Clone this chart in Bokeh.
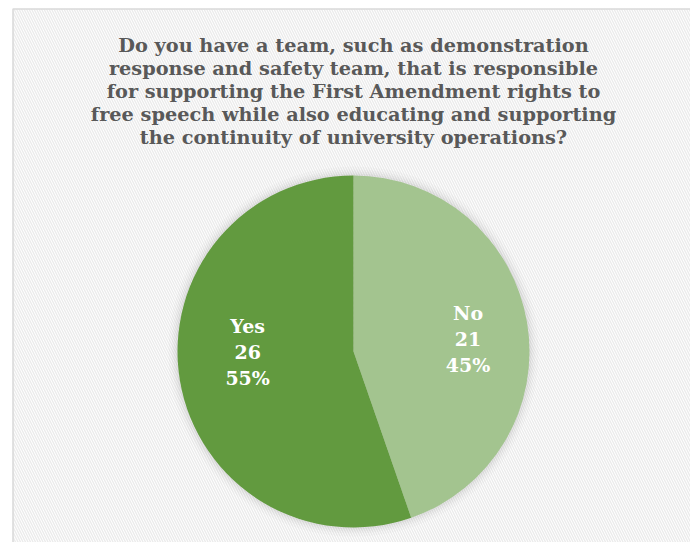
import numpy as np
from bokeh.plotting import figure
from bokeh.models import ColumnDataSource, Range1d
from bokeh.core.properties import value
from bokeh.embed import file_html
from bokeh.resources import INLINE

# ---- data ----
categories = ["No", "Yes"]
counts = [21, 26]
colors = ["#a3c48f", "#629a3f"]
title_lines = [
    "Do you have a team, such as demonstration",
    "response and safety team, that is responsible",
    "for supporting the First Amendment rights to",
    "free speech while also educating and supporting",
    "the continuity of university operations?",
]

W, H = 690, 542
p = figure(width=W, height=H, output_backend="svg", toolbar_location=None,
           x_range=Range1d(0, W), y_range=Range1d(0, H), min_border=0)
p.axis.visible = False
p.grid.visible = False
p.outline_line_color = None
p.background_fill_color = "white"
p.border_fill_color = "white"

# chart area with hatched background and border
p.quad(left=[12.5], right=[W + 5], top=[H - 8.5], bottom=[-5],
       fill_color="white", line_color="#d9d9d9", line_width=1.5,
       hatch_pattern="\\", hatch_color="#ebebeb", hatch_scale=5, hatch_weight=1.4)

# pie geometry
cx, cy, R = 353, H - 351, 176
total = sum(counts)
fracs = [c / total for c in counts]
starts, ends = [], []
a = np.pi / 2
for f in fracs:
    starts.append(a)
    a = a - f * 2 * np.pi
    ends.append(a)

# soft shadow
for dr, al in [(9, 0.03), (6, 0.04), (4, 0.05), (2, 0.07)]:
    p.circle(x=[cx], y=[cy], radius=R + dr, fill_color="#808080", fill_alpha=al,
             line_color=None)

src = ColumnDataSource(dict(start=starts, end=ends, color=colors))
p.wedge(x=cx, y=cy, radius=R, start_angle="start", end_angle="end",
        direction="clock", fill_color="color", line_color=None, source=src)

# data labels
font = value("DejaVu Serif")
lab_r = [0.66, 0.61]
lab_dy = [-7, 17]
for i, cat in enumerate(categories):
    mid = (starts[i] + ends[i]) / 2
    lx = cx + lab_r[i] * R * np.cos(mid)
    ly = cy + lab_r[i] * R * np.sin(mid) + lab_dy[i]
    pct = f"{round(fracs[i] * 100)}%"
    texts = [cat, str(counts[i]), pct]
    p.text(x=[lx] * 3, y=[ly + 26 - 26 * k for k in range(3)], text=texts,
           text_font=font, text_font_style="bold", text_font_size="19px",
           text_color="white", text_align="center", text_baseline="middle")

# title
p.text(x=[353] * len(title_lines), y=[H - 45 - 23 * k for k in range(len(title_lines))],
       text=title_lines, text_font=font, text_font_style="bold",
       text_font_size="19.3px", text_color="#595959", text_align="center",
       text_baseline="middle")

open("out.html", "w").write(file_html(p, INLINE))
